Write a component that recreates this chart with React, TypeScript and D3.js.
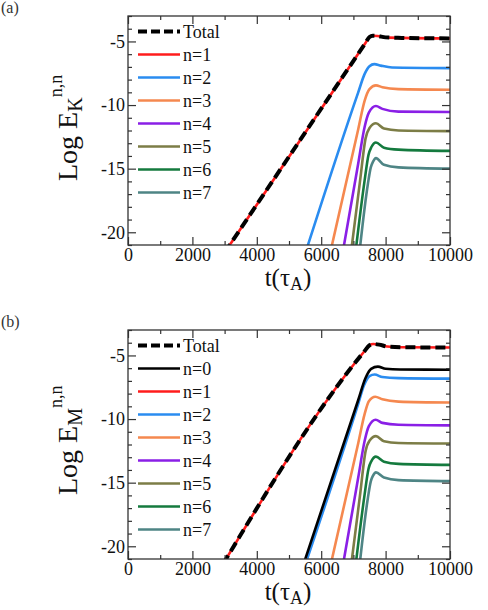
import React, { useEffect, useRef } from "react";
import * as d3 from "d3";

type Pt = [number, number];

// axis ticks
const xMajor = [0, 2000, 4000, 6000, 8000, 10000];
const xMinor = [1000, 3000, 5000, 7000, 9000];
const yMajor = [-20, -15, -10, -5];
const yMinor = [-21, -19, -18, -17, -16, -14, -13, -12, -11, -9, -8, -7, -6, -4, -3];

// (a) kinetic energy, log scale, t in tau_A
const kinTotal: Pt[] = [[3000, -21.6], [7380, -5.1], [7500, -4.65], [7600, -4.55], [7750, -4.57], [8000, -4.68], [8500, -4.72], [10000, -4.76]];
const kinN1: Pt[] = [[3000, -21.6], [7380, -5.1], [7500, -4.65], [7600, -4.55], [7750, -4.57], [8000, -4.68], [8500, -4.72], [10000, -4.76]];
const kinN2: Pt[] = [[5500, -21.7], [7150, -9.0], [7350, -7.55], [7500, -6.95], [7650, -6.78], [7850, -6.9], [8200, -7.05], [10000, -7.1]];
const kinN3: Pt[] = [[6250, -21.95], [7150, -11.9], [7350, -9.65], [7500, -8.75], [7700, -8.45], [7900, -8.6], [8400, -8.75], [10000, -8.8]];
const kinN4: Pt[] = [[6650, -21.85], [7150, -14.6], [7350, -11.7], [7480, -10.6], [7700, -10.08], [7900, -10.3], [8400, -10.52], [10000, -10.55]];
const kinN5: Pt[] = [[6900, -22.1], [7200, -16.1], [7380, -12.6], [7500, -11.8], [7700, -11.43], [7950, -11.85], [8400, -12.0], [10000, -12.05]];
const kinN6: Pt[] = [[7050, -21.9], [7350, -15.9], [7470, -13.9], [7560, -13.3], [7700, -12.94], [7950, -13.35], [8400, -13.5], [10000, -13.6]];
const kinN7: Pt[] = [[7170, -22.0], [7450, -16.2], [7540, -14.9], [7610, -14.45], [7700, -14.17], [7950, -14.7], [8400, -14.9], [10000, -15.0]];

// (b) magnetic energy
const magTotal: Pt[] = [[2950, -21.4], [7350, -4.65], [7500, -4.2], [7620, -4.1], [7800, -4.15], [8050, -4.3], [8500, -4.35], [10000, -4.38]];
const magN0: Pt[] = [[5400, -21.8], [7150, -8.5], [7380, -6.75], [7550, -6.05], [7760, -5.88], [8000, -6.05], [8450, -6.11], [10000, -6.12]];
const magN1: Pt[] = [[2950, -21.4], [7350, -4.65], [7500, -4.2], [7620, -4.1], [7800, -4.15], [8050, -4.3], [8500, -4.35], [10000, -4.38]];
const magN2: Pt[] = [[5450, -21.85], [7150, -8.8], [7330, -7.35], [7500, -6.62], [7660, -6.5], [7900, -6.7], [8400, -6.78], [10000, -6.82]];
const magN3: Pt[] = [[6250, -21.95], [7150, -11.9], [7350, -9.6], [7480, -8.6], [7680, -8.25], [7900, -8.45], [8400, -8.63], [10000, -8.7]];
const magN4: Pt[] = [[6650, -21.85], [7150, -14.6], [7350, -11.7], [7480, -10.55], [7690, -10.05], [7900, -10.3], [8400, -10.45], [10000, -10.5]];
const magN5: Pt[] = [[6900, -22.1], [7200, -16.1], [7380, -12.5], [7500, -11.7], [7700, -11.34], [7950, -11.75], [8400, -11.88], [10000, -11.92]];
const magN6: Pt[] = [[7050, -21.9], [7350, -15.9], [7470, -13.9], [7560, -13.3], [7700, -12.95], [7950, -13.35], [8400, -13.52], [10000, -13.6]];
const magN7: Pt[] = [[7170, -22.0], [7450, -16.2], [7540, -14.9], [7610, -14.45], [7700, -14.19], [7950, -14.6], [8400, -14.8], [10000, -14.88]];

const kinLabels = ["Total", "n=1", "n=2", "n=3", "n=4", "n=5", "n=6", "n=7"];
const kinColors = ["#000000", "#ff1c1c", "#2a8cf0", "#f5884f", "#8a1fe6", "#7c7d46", "#147a3e", "#4e8585"];
const magLabels = ["Total", "n=0", "n=1", "n=2", "n=3", "n=4", "n=5", "n=6", "n=7"];
const magColors = ["#000000", "#000000", "#ff1c1c", "#2a8cf0", "#f5884f", "#8a1fe6", "#7c7d46", "#147a3e", "#4e8585"];

const FONT = "Liberation Serif, Times New Roman, serif";

interface Series { label: string; color: string; dashed: boolean; data: Pt[] }

const kinSeries: Series[] = [kinTotal, kinN1, kinN2, kinN3, kinN4, kinN5, kinN6, kinN7].map((d, i) => ({
  label: kinLabels[i], color: kinColors[i], dashed: i === 0, data: d,
}));
const magSeries: Series[] = [magTotal, magN0, magN1, magN2, magN3, magN4, magN5, magN6, magN7].map((d, i) => ({
  label: magLabels[i], color: magColors[i], dashed: i === 0, data: d,
}));

const W = 488;
const H = 610;
const left = 128;
const right = 450;
const plotH = 229;

function drawPanel(
  root: d3.Selection<SVGSVGElement, unknown, null, undefined>,
  top: number,
  series: Series[],
  sub: string,
  tag: string,
  id: string
) {
  const x = d3.scaleLinear().domain([0, 10000]).range([left, right]);
  const y = d3.scaleLinear().domain([-21, -3]).range([top + plotH, top]);
  const g = root.append("g");

  g.append("clipPath").attr("id", id).append("rect")
    .attr("x", left).attr("y", top).attr("width", right - left).attr("height", plotH);

  const line = d3.line<Pt>().x((d) => x(d[0])).y((d) => y(d[1])).curve(d3.curveMonotoneX);

  const lines = g.append("g").attr("clip-path", `url(#${id})`);
  series.slice().reverse().forEach((s) => {
    lines.append("path")
      .attr("d", line(s.data))
      .attr("fill", "none")
      .attr("stroke", s.color)
      .attr("stroke-width", s.dashed ? 4 : 2.6)
      .attr("stroke-dasharray", s.dashed ? "10,5" : null)
      .attr("stroke-linejoin", "round");
  });

  // axes, ticks pointing inward on all four sides
  const fmt = (d: d3.NumberValue) => String(d);
  const axes = [
    { ax: d3.axisBottom(x).tickValues(xMajor).tickSize(-8).tickPadding(3).tickFormat(fmt), t: `translate(0,${top + plotH})` },
    { ax: d3.axisBottom(x).tickValues(xMinor).tickSize(-4).tickFormat(() => ""), t: `translate(0,${top + plotH})` },
    { ax: d3.axisTop(x).tickValues(xMajor).tickSize(-8).tickFormat(() => ""), t: `translate(0,${top})` },
    { ax: d3.axisTop(x).tickValues(xMinor).tickSize(-4).tickFormat(() => ""), t: `translate(0,${top})` },
    { ax: d3.axisLeft(y).tickValues(yMajor).tickSize(-8).tickPadding(3).tickFormat(fmt), t: `translate(${left},0)` },
    { ax: d3.axisLeft(y).tickValues(yMinor).tickSize(-4).tickFormat(() => ""), t: `translate(${left},0)` },
    { ax: d3.axisRight(y).tickValues(yMajor).tickSize(-8).tickFormat(() => ""), t: `translate(${right},0)` },
    { ax: d3.axisRight(y).tickValues(yMinor).tickSize(-4).tickFormat(() => ""), t: `translate(${right},0)` },
  ];
  axes.forEach((a) => {
    const ag = g.append("g").attr("transform", a.t).call(a.ax as any);
    ag.attr("font-family", FONT).attr("font-size", 18);
    ag.select(".domain").remove();
    ag.selectAll("line").attr("stroke", "#333").attr("stroke-width", 1.2);
    ag.selectAll("text").attr("fill", "#111");
  });

  g.append("rect")
    .attr("x", left).attr("y", top).attr("width", right - left).attr("height", plotH)
    .attr("fill", "none").attr("stroke", "#333").attr("stroke-width", 1.3);

  // legend
  const legTop = top + 15.5;
  series.forEach((s, i) => {
    const ly = legTop + i * 23;
    g.append("line")
      .attr("x1", 138).attr("x2", 180).attr("y1", ly).attr("y2", ly)
      .attr("stroke", s.color)
      .attr("stroke-width", s.dashed ? 4 : 2.6)
      .attr("stroke-dasharray", s.dashed ? "9,4" : null);
    g.append("text")
      .attr("x", 183).attr("y", ly).attr("dy", "0.35em")
      .attr("font-family", FONT).attr("font-size", 18).attr("fill", "#111")
      .text(s.label);
  });

  // x title
  const xt = g.append("text")
    .attr("x", (left + right) / 2 - 1).attr("y", top + plotH + 41)
    .attr("text-anchor", "middle")
    .attr("font-family", FONT).attr("font-size", 25).attr("fill", "#111");
  xt.append("tspan").text("t(τ");
  xt.append("tspan").attr("font-size", 18).attr("dy", 4).text("A");
  xt.append("tspan").attr("dy", -4).text(")");

  // y title
  const yt = g.append("text")
    .attr("transform", `translate(77,${top + 165}) rotate(-90)`)
    .attr("text-anchor", "start")
    .attr("font-family", FONT).attr("font-size", 28).attr("fill", "#111");
  yt.append("tspan").text("Log E");
  yt.append("tspan").attr("font-size", 20).attr("dy", 5).text(sub);
  yt.append("tspan").attr("font-size", 18).attr("dy", -20).text("n,n");

  // panel tag
  g.append("text")
    .attr("x", 1).attr("y", top - 3)
    .attr("font-family", FONT).attr("font-size", 16).attr("fill", "#333")
    .text(tag);
}

const App: React.FC = () => {
  const svgRef = useRef<SVGSVGElement>(null);

  useEffect(() => {
    if (!svgRef.current) return;
    const svg = d3.select(svgRef.current);
    svg.selectAll("*").remove();
    drawPanel(svg, 16, kinSeries, "K", "(a)", "clipA");
    drawPanel(svg, 330, magSeries, "M", "(b)", "clipB");
  }, []);

  return (
    <svg
      ref={svgRef}
      width={W}
      height={H}
      style={{ position: "absolute", left: 0, top: 0, background: "#fff" }}
    />
  );
};

export default App;
